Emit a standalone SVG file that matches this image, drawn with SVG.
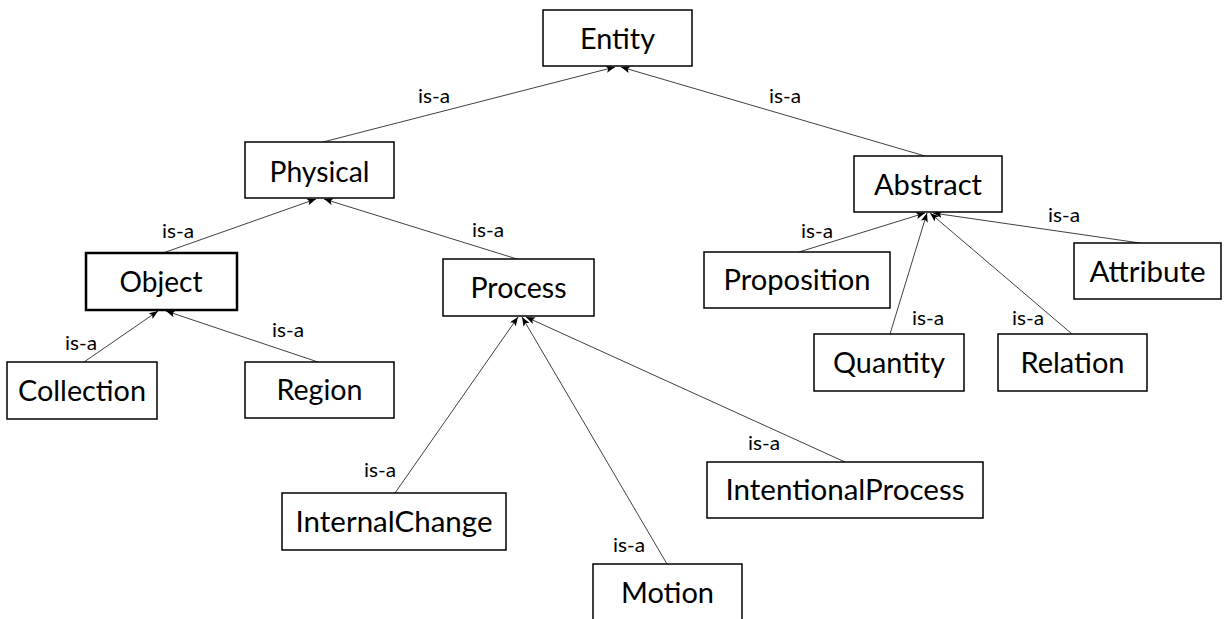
<svg xmlns="http://www.w3.org/2000/svg" width="1225" height="619" viewBox="0 0 1225 619">
<style>
.box{fill:#fff;stroke:#000;stroke-width:1.5}
.thick{stroke-width:2.5}
.lbl{font-family:Lato,"Liberation Sans",sans-serif;font-size:28px;fill:#000;text-anchor:middle}
.isa{font-family:Lato,"Liberation Sans",sans-serif;font-size:20px;fill:#000}
.edge{stroke:#404040;stroke-width:1;fill:none;marker-end:url(#arr)}
</style>
<defs>
<marker id="arr" markerUnits="userSpaceOnUse" markerWidth="10" markerHeight="8" refX="9" refY="3.5" orient="auto">
<path d="M0,0 L9,3.5 L0,7 L2,3.5 z" fill="#000"/>
</marker>
</defs>
<rect width="1225" height="619" fill="#fff"/>
<g id="connectors">
<line class="edge" x1="323" y1="142" x2="615" y2="67"/>
<line class="edge" x1="925" y1="156" x2="621" y2="67"/>
<line class="edge" x1="163" y1="253" x2="316" y2="199"/>
<line class="edge" x1="517" y1="259" x2="324" y2="199"/>
<line class="edge" x1="84" y1="362" x2="158" y2="311"/>
<line class="edge" x1="318" y1="362" x2="166" y2="311"/>
<line class="edge" x1="395" y1="493" x2="518" y2="317"/>
<line class="edge" x1="667" y1="564" x2="522" y2="317"/>
<line class="edge" x1="845" y1="462" x2="526" y2="317"/>
<line class="edge" x1="799" y1="252" x2="925" y2="213"/>
<line class="edge" x1="890" y1="334" x2="927" y2="213"/>
<line class="edge" x1="1072" y1="334" x2="930" y2="213"/>
<line class="edge" x1="1140" y1="243" x2="933" y2="213"/>
<text class="isa" x="418" y="103" textLength="32" lengthAdjust="spacingAndGlyphs">is-a</text>
<text class="isa" x="769" y="103" textLength="32" lengthAdjust="spacingAndGlyphs">is-a</text>
<text class="isa" x="162" y="238" textLength="32" lengthAdjust="spacingAndGlyphs">is-a</text>
<text class="isa" x="472" y="237" textLength="32" lengthAdjust="spacingAndGlyphs">is-a</text>
<text class="isa" x="65" y="350" textLength="32" lengthAdjust="spacingAndGlyphs">is-a</text>
<text class="isa" x="272" y="337" textLength="32" lengthAdjust="spacingAndGlyphs">is-a</text>
<text class="isa" x="364" y="477" textLength="32" lengthAdjust="spacingAndGlyphs">is-a</text>
<text class="isa" x="613" y="552" textLength="32" lengthAdjust="spacingAndGlyphs">is-a</text>
<text class="isa" x="748" y="450" textLength="32" lengthAdjust="spacingAndGlyphs">is-a</text>
<text class="isa" x="801" y="238" textLength="32" lengthAdjust="spacingAndGlyphs">is-a</text>
<text class="isa" x="1048" y="222" textLength="32" lengthAdjust="spacingAndGlyphs">is-a</text>
<text class="isa" x="912" y="325" textLength="32" lengthAdjust="spacingAndGlyphs">is-a</text>
<text class="isa" x="1012" y="325" textLength="32" lengthAdjust="spacingAndGlyphs">is-a</text>
</g>
<g id="entity"><rect class="box" x="543" y="10" width="149" height="56"/><text class="lbl" x="617.5" y="49" textLength="75" lengthAdjust="spacingAndGlyphs">Entity</text></g>
<g id="physical"><rect class="box" x="245" y="142" width="149" height="56"/><text class="lbl" x="319.5" y="182" textLength="100" lengthAdjust="spacingAndGlyphs">Physical</text></g>
<g id="abstract"><rect class="box" x="854" y="156" width="148" height="56"/><text class="lbl" x="928" y="195" textLength="108" lengthAdjust="spacingAndGlyphs">Abstract</text></g>
<g id="object"><rect class="box thick" x="86" y="253" width="151" height="57"/><text class="lbl" x="161" y="292" textLength="83" lengthAdjust="spacingAndGlyphs">Object</text></g>
<g id="process"><rect class="box" x="443" y="259" width="151" height="57"/><text class="lbl" x="518.5" y="298" textLength="96" lengthAdjust="spacingAndGlyphs">Process</text></g>
<g id="collection"><rect class="box" x="7" y="362" width="150" height="57"/><text class="lbl" x="82" y="401" textLength="128" lengthAdjust="spacingAndGlyphs">Collection</text></g>
<g id="region"><rect class="box" x="245" y="362" width="149" height="56"/><text class="lbl" x="319.5" y="400" textLength="86" lengthAdjust="spacingAndGlyphs">Region</text></g>
<g id="proposition"><rect class="box" x="704" y="252" width="186" height="56"/><text class="lbl" x="797" y="290" textLength="147" lengthAdjust="spacingAndGlyphs">Proposition</text></g>
<g id="attribute"><rect class="box" x="1074" y="243" width="147" height="56"/><text class="lbl" x="1147.5" y="282" textLength="116" lengthAdjust="spacingAndGlyphs">Attribute</text></g>
<g id="quantity"><rect class="box" x="814" y="334" width="150" height="57"/><text class="lbl" x="889" y="373" textLength="112" lengthAdjust="spacingAndGlyphs">Quantity</text></g>
<g id="relation"><rect class="box" x="998" y="334" width="149" height="57"/><text class="lbl" x="1072.5" y="373" textLength="104" lengthAdjust="spacingAndGlyphs">Relation</text></g>
<g id="internalchange"><rect class="box" x="282" y="493" width="224" height="57"/><text class="lbl" x="394" y="532" textLength="197" lengthAdjust="spacingAndGlyphs">InternalChange</text></g>
<g id="intentionalprocess"><rect class="box" x="707" y="462" width="276" height="56"/><text class="lbl" x="845" y="500" textLength="239" lengthAdjust="spacingAndGlyphs">IntentionalProcess</text></g>
<g id="motion"><rect class="box" x="593" y="564" width="149" height="80"/><text class="lbl" x="667.5" y="603" textLength="93" lengthAdjust="spacingAndGlyphs">Motion</text></g>
</svg>
